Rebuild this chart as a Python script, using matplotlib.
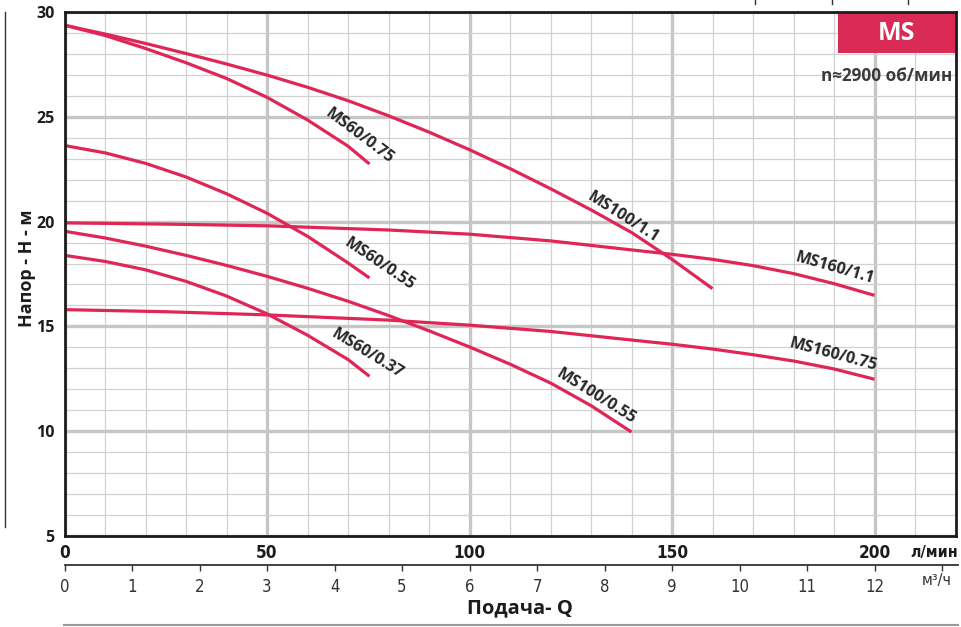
import matplotlib
matplotlib.use("Agg")
import matplotlib.pyplot as plt
import matplotlib.font_manager as fm
from matplotlib.patches import Rectangle
from matplotlib.lines import Line2D

# ---------------- data ----------------
q_ms60_075 = [0, 10, 20, 30, 40, 50, 60, 70, 75.3]
h_ms60_075 = [29.37, 28.88, 28.26, 27.58, 26.83, 25.93, 24.85, 23.6, 22.75]

q_ms100_11 = [0, 10, 20, 30, 40, 50, 60, 70, 80, 90, 100, 110, 120, 130, 140, 150, 160]
h_ms100_11 = [29.37, 28.95, 28.5, 28.02, 27.52, 26.99, 26.41, 25.77, 25.05, 24.27, 23.43,
              22.53, 21.57, 20.56, 19.48, 18.2, 16.8]

q_ms160_11 = [0, 25, 50, 80, 100, 120, 140, 150, 160, 170, 180, 190, 200]
h_ms160_11 = [19.94, 19.88, 19.8, 19.6, 19.4, 19.08, 18.65, 18.44, 18.2, 17.9, 17.52, 17.04, 16.48]

q_ms60_055 = [0, 10, 20, 30, 40, 50, 60, 70, 75.3]
h_ms60_055 = [23.63, 23.28, 22.78, 22.13, 21.33, 20.4, 19.3, 18.03, 17.31]

q_ms100_055 = [0, 10, 20, 30, 40, 50, 60, 70, 80, 90, 100, 110, 120, 130, 140]
h_ms100_055 = [19.54, 19.22, 18.83, 18.39, 17.91, 17.39, 16.82, 16.2, 15.52, 14.79, 14.02,
               13.2, 12.3, 11.22, 9.96]

q_ms60_037 = [0, 10, 20, 30, 40, 50, 60, 70, 75.3]
h_ms60_037 = [18.39, 18.1, 17.7, 17.15, 16.45, 15.6, 14.58, 13.42, 12.62]

q_ms160_075 = [0, 25, 50, 80, 100, 120, 140, 150, 160, 170, 180, 190, 200]
h_ms160_075 = [15.8, 15.7, 15.55, 15.3, 15.06, 14.76, 14.35, 14.15, 13.92, 13.65, 13.35, 12.97, 12.48]

curve_names = ["MS60/0.75", "MS100/1.1", "MS160/1.1", "MS60/0.55",
               "MS100/0.55", "MS60/0.37", "MS160/0.75"]
curve_q = [q_ms60_075, q_ms100_11, q_ms160_11, q_ms60_055, q_ms100_055, q_ms60_037, q_ms160_075]
curve_h = [h_ms60_075, h_ms100_11, h_ms160_11, h_ms60_055, h_ms100_055, h_ms60_037, h_ms160_075]

# label positions (Q, H) and angle
label_q = [72.8, 137.8, 190.1, 77.8, 131.3, 74.8, 189.9]
label_h = [24.06, 20.2, 17.76, 17.95, 11.67, 13.71, 13.66]
label_rot = [-37, -32.5, -16, -34, -32, -31.5, -15]

x_ticks = [0, 50, 100, 150, 200]
y_ticks = [5, 10, 15, 20, 25, 30]
m3_ticks = list(range(0, 14))
m3_labels = [str(i) for i in range(0, 13)] + [""]

# ---------------- fonts ----------------
def find_condensed(bold):
    best, best_score = None, -1
    for f in fm.fontManager.ttflist:
        nm = f.name
        if "Serif" in nm or "Mono" in nm or f.style != "normal":
            continue
        cond = ("Narrow" in nm or "Condensed" in nm or
                str(f.stretch) in ("condensed", "semi-condensed", "extra-condensed"))
        if not cond:
            continue
        w = f.weight if isinstance(f.weight, int) else (700 if "bold" in str(f.weight) else 400)
        if (bold and w >= 600) or (not bold and w < 600):
            score = 2 if ("DejaVu Sans" in nm or "Liberation Sans" in nm) else 1
            if score > best_score:
                best, best_score = f.fname, score
    return best

cb = find_condensed(True)
cr = find_condensed(False)

def cprop(size, bold):
    path = cb if bold else cr
    if path:
        return fm.FontProperties(fname=path, size=size)
    return fm.FontProperties(family="DejaVu Sans", weight="bold" if bold else "normal",
                             size=size * 0.85)

# ---------------- style ----------------
W, H = 961, 627
RED = "#DF2657"
DARK = "#1c1c1c"
LAB = ["Open Sans", "DejaVu Sans"]

fig = plt.figure(figsize=(W / 100, H / 100), dpi=100)
fig.patch.set_facecolor("white")

L, R, T, B = 64.5, 955.5, 12, 536
ax = fig.add_axes([L / W, 1 - B / H, (R - L) / W, (B - T) / H])
ax.set_xlim(0, 220)
ax.set_ylim(5, 30)

ax.set_xticks(x_ticks)
ax.set_xticks(range(0, 221, 10), minor=True)
ax.set_yticks(y_ticks)
ax.set_yticks(range(5, 31), minor=True)
ax.grid(which="minor", color="#d0d0d0", lw=0.9, zorder=0)
ax.grid(which="major", color="#c6c6c6", lw=2.4, zorder=0)
ax.set_axisbelow(True)
ax.tick_params(which="both", length=0)
ax.tick_params(axis="x", pad=6)
ax.tick_params(axis="y", pad=7)
for lbl in ax.get_xticklabels():
    lbl.set_fontproperties(cprop(12.3, True))
    lbl.set_color(DARK)
for lbl in ax.get_yticklabels():
    lbl.set_fontfamily(LAB)
    lbl.set_fontweight("bold")
    lbl.set_fontsize(11.5)
    lbl.set_color(DARK)
for s in ax.spines.values():
    s.set_linewidth(2.0)
    s.set_color(DARK)
    s.set_zorder(10)

for name, q, h, lq, lh, rot in zip(curve_names, curve_q, curve_h, label_q, label_h, label_rot):
    ax.plot(q, h, color=RED, lw=2.3, solid_capstyle="butt", solid_joinstyle="round", zorder=3)
    ax.text(lq, lh, name, rotation=rot, rotation_mode="anchor", ha="center", va="center",
            fontsize=11.5, fontweight="bold", color="#262626", family=LAB, zorder=4)

# MS badge
bx0 = (838 - L) / (R - L)
by0 = (B - 53) / (B - T)
ax.add_patch(Rectangle((bx0, by0), 1 - bx0, 1 - by0, transform=ax.transAxes,
                       facecolor="#DA2A56", edgecolor="none", zorder=5, clip_on=False))
ax.text((bx0 + 1) / 2, 1 - 21 / (B - T), "MS", transform=ax.transAxes,
        ha="center", va="center", color="white", fontsize=18, fontweight="bold",
        family=LAB, zorder=6)
ax.text((952 - L) / (R - L), (B - 76) / (B - T), "n≈2900 об/мин", transform=ax.transAxes,
        ha="right", va="center", color="#3a3a3a", fontsize=12.3, fontweight="bold",
        family=LAB, zorder=6)

# secondary m3/h axis
ax2 = fig.add_axes([L / W, 1 - 565 / H, (R - L + 2) / W, 0.0005])
ax2.set_xlim(0, 220 * 0.06 * (R - L + 2) / (R - L))
ax2.patch.set_visible(False)
for k in ("top", "left", "right"):
    ax2.spines[k].set_visible(False)
ax2.spines["bottom"].set_linewidth(1.3)
ax2.spines["bottom"].set_color("#333333")
ax2.set_yticks([])
ax2.set_xticks(m3_ticks)
ax2.set_xticklabels(m3_labels)
ax2.tick_params(axis="x", direction="out", length=4, width=1, color="#333333", pad=5)
for lbl in ax2.get_xticklabels():
    lbl.set_fontproperties(cprop(12, False))
    lbl.set_color("#333333")

# unit labels and axis titles
fig.text(958 / W, 1 - 553 / H, "л/мин", ha="right", va="center",
         fontproperties=cprop(11.5, True), color=DARK)
fig.text(937 / W, 1 - 581 / H, "м³/ч", ha="center", va="center",
         fontproperties=cprop(11.5, False), color="#333333")
fig.text(520 / W, 1 - 608 / H, "Подача- Q", ha="center", va="center", fontsize=14.5,
         fontweight="bold", color=DARK, family=LAB)
fig.text(27 / W, 1 - 268 / H, "Напор - H - м", ha="center", va="center", fontsize=13,
         fontweight="bold", color=DARK, family=LAB, rotation=90)

# decorative lines
fig.add_artist(Line2D([64 / W, 958 / W], [1 - 625 / H, 1 - 625 / H], color="#9a9a9a", lw=1.5))
fig.add_artist(Line2D([4.5 / W, 4.5 / W], [1 - 12 / H, 1 - 527 / H], color="#333333", lw=1))
for xp in (755, 832, 908):
    fig.add_artist(Line2D([xp / W, xp / W], [1, 1 - 4 / H], color="#333333", lw=1))

fig.savefig("out.png", dpi=100)
